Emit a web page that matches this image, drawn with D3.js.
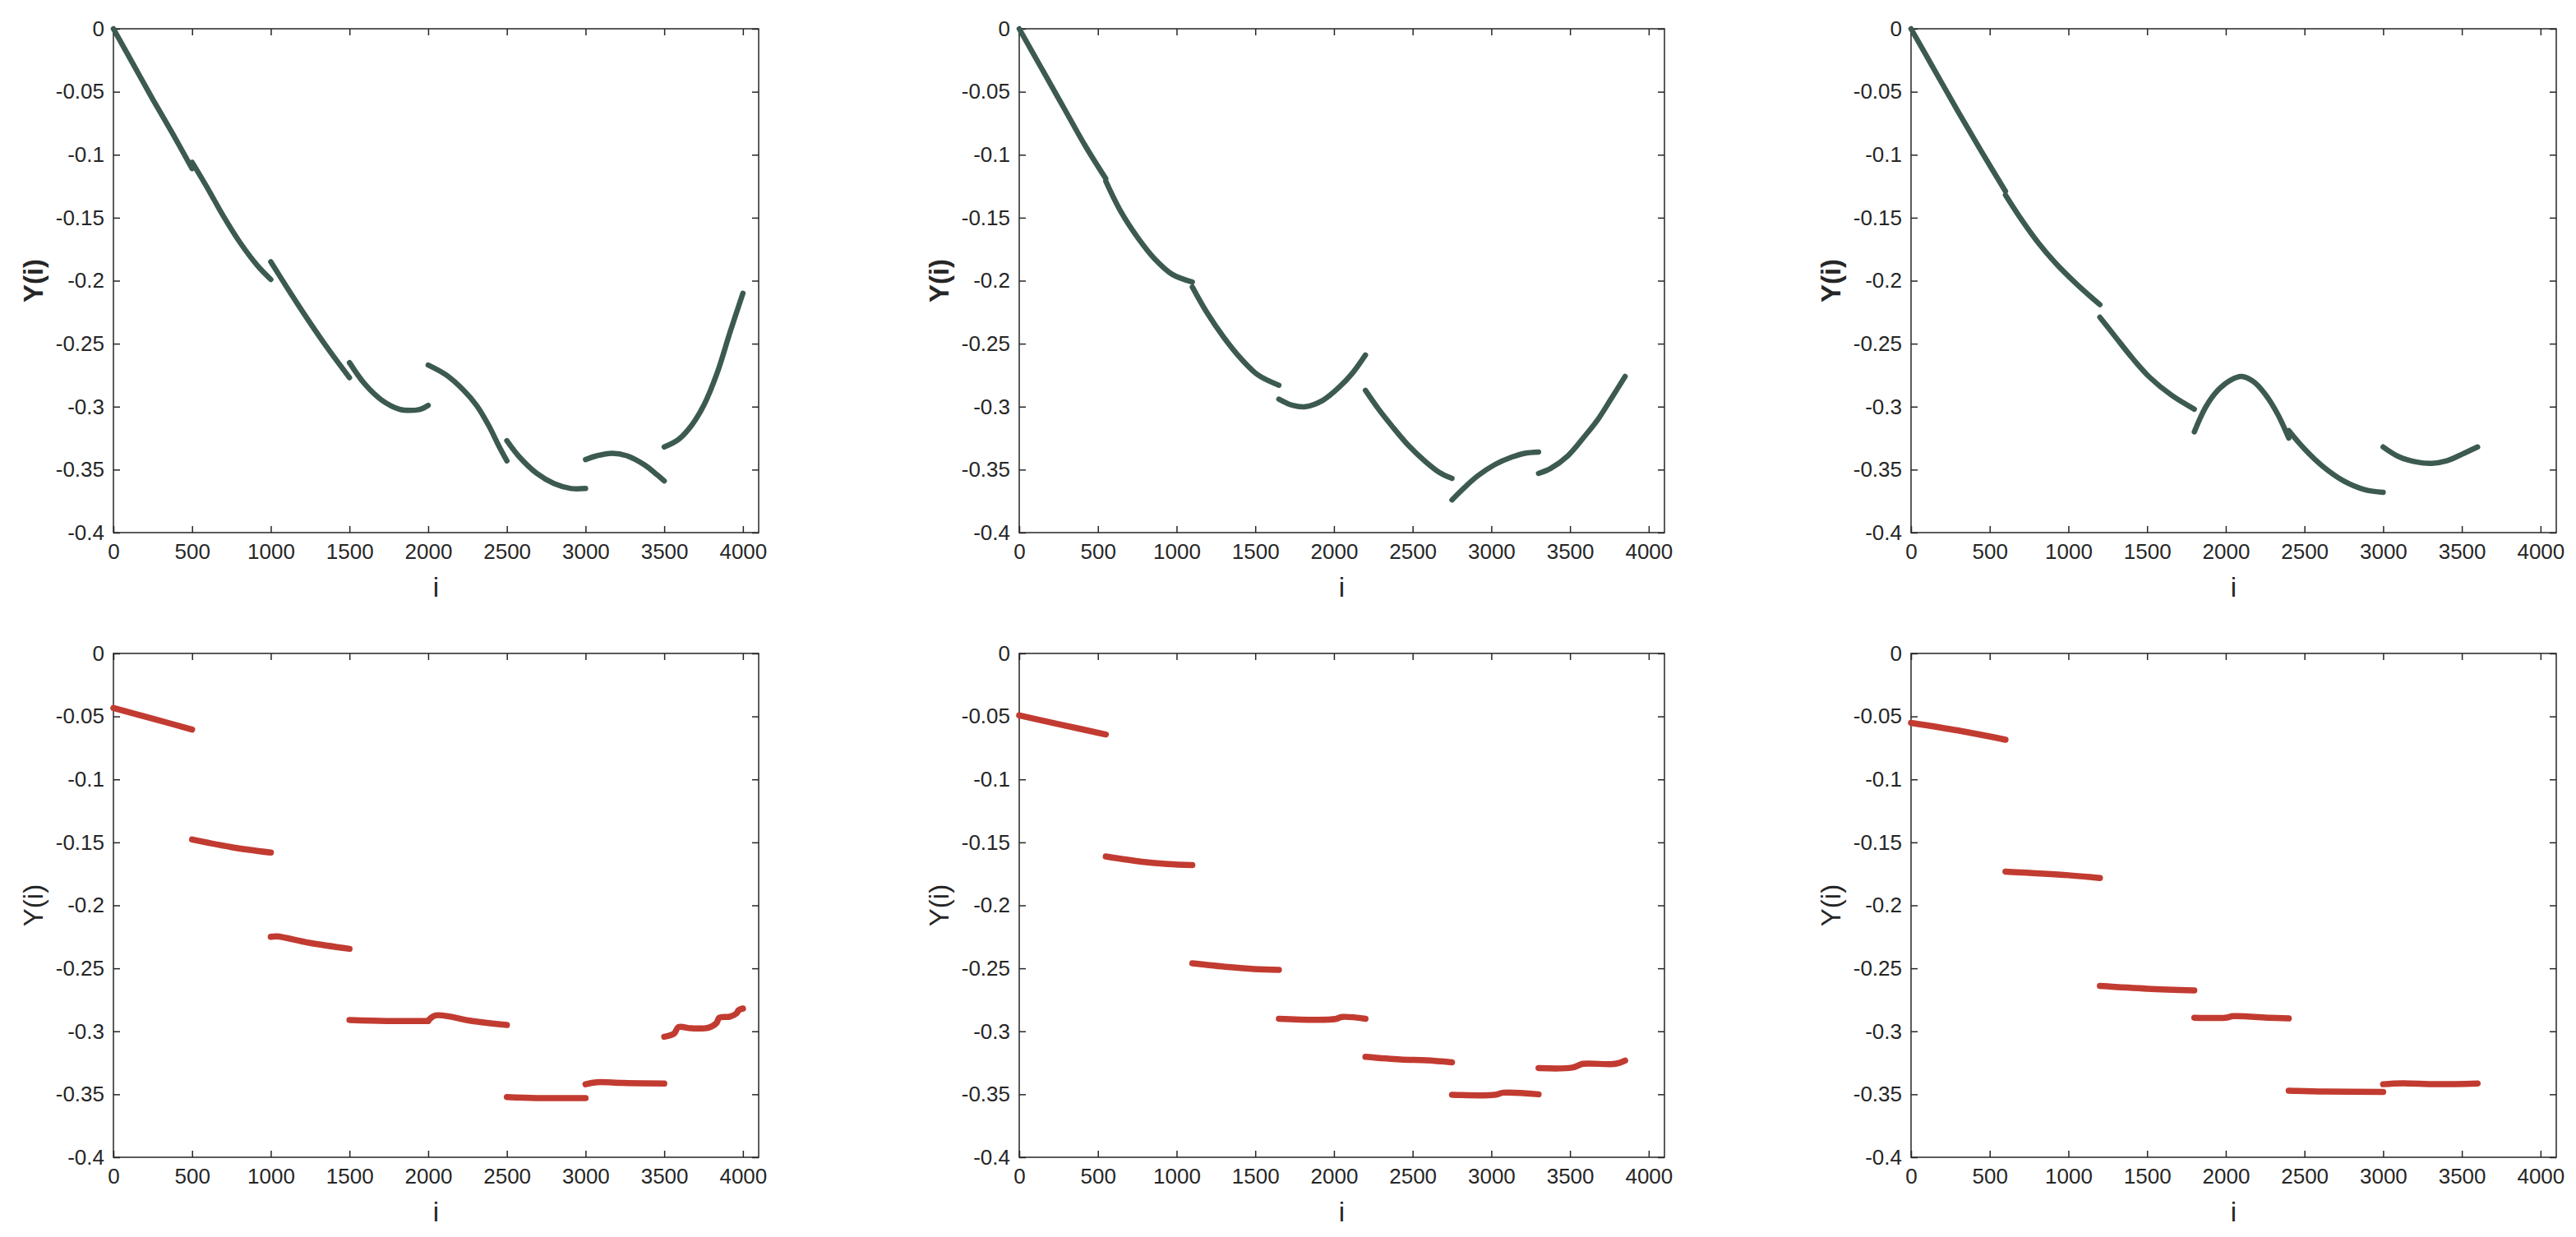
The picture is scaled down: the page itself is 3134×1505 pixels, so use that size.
<!DOCTYPE html>
<html>
<head>
<meta charset="utf-8">
<script src="https://cdn.jsdelivr.net/npm/d3@7"></script>
<style>
  html, body { margin: 0; padding: 0; background: #fff; }
  svg { display: block; }
  text { font-family: "Liberation Sans", Arial, Helvetica, sans-serif; fill: #262626; }
</style>
</head>
<body>
<div id="chart"></div>
<script>
// tick values and labels shared by all six panels
const xTicks = [0, 500, 1000, 1500, 2000, 2500, 3000, 3500, 4000];
const yTicks = [0, -0.05, -0.1, -0.15, -0.2, -0.25, -0.3, -0.35, -0.4];
const yTickLabels = ["0", "-0.05", "-0.1", "-0.15", "-0.2", "-0.25", "-0.3", "-0.35", "-0.4"];

// top row: segments of length 500 / 550 / 600, points [i, Y(i)]
const top500 = [
  [[0, 0], [125, -0.028], [250, -0.056], [375, -0.083], [500, -0.111]],
  [[500, -0.106], [600, -0.127], [700, -0.149], [806, -0.170], [915, -0.188], [1000, -0.199]],
  [[1000, -0.185], [1106, -0.206], [1215, -0.227], [1324, -0.247], [1434, -0.266], [1500, -0.277]],
  [[1500, -0.265], [1597, -0.282], [1707, -0.295], [1816, -0.302], [1884, -0.303], [1952, -0.302], [2000, -0.299]],
  [[2000, -0.267], [2116, -0.275], [2225, -0.287], [2307, -0.299], [2389, -0.316], [2444, -0.330], [2500, -0.343]],
  [[2500, -0.327], [2580, -0.340], [2690, -0.353], [2799, -0.361], [2908, -0.365], [3000, -0.365]],
  [[3000, -0.342], [3072, -0.339], [3168, -0.337], [3263, -0.339], [3372, -0.346], [3454, -0.354], [3500, -0.359]],
  [[3500, -0.332], [3591, -0.326], [3673, -0.315], [3755, -0.298], [3837, -0.273], [3918, -0.241], [4000, -0.210]]
];

const top550 = [
  [[0, 0], [140, -0.031], [280, -0.062], [420, -0.093], [550, -0.119]],
  [[550, -0.121], [645, -0.145], [754, -0.166], [863, -0.183], [973, -0.195], [1100, -0.201]],
  [[1100, -0.205], [1191, -0.225], [1300, -0.245], [1410, -0.262], [1519, -0.275], [1650, -0.283]],
  [[1650, -0.294], [1738, -0.299], [1820, -0.300], [1929, -0.295], [2038, -0.284], [2120, -0.273], [2200, -0.259]],
  [[2200, -0.287], [2284, -0.302], [2366, -0.315], [2475, -0.331], [2585, -0.344], [2667, -0.352], [2750, -0.357]],
  [[2750, -0.374], [2831, -0.364], [2913, -0.355], [3022, -0.346], [3131, -0.340], [3213, -0.337], [3300, -0.336]],
  [[3300, -0.353], [3377, -0.349], [3486, -0.339], [3596, -0.323], [3678, -0.310], [3760, -0.294], [3850, -0.276]]
];

const top600 = [
  [[0, 0], [150, -0.033], [300, -0.066], [450, -0.098], [600, -0.129]],
  [[600, -0.132], [699, -0.151], [809, -0.170], [918, -0.186], [1055, -0.203], [1200, -0.219]],
  [[1200, -0.229], [1301, -0.245], [1410, -0.262], [1519, -0.277], [1656, -0.291], [1800, -0.302]],
  [[1800, -0.320], [1874, -0.300], [1950, -0.287], [2030, -0.279], [2100, -0.276], [2175, -0.280],
   [2250, -0.290], [2330, -0.306], [2400, -0.325]],
  [[2400, -0.319], [2503, -0.334], [2612, -0.347], [2749, -0.359], [2885, -0.366], [3000, -0.368]],
  [[3000, -0.332], [3104, -0.340], [3213, -0.344], [3309, -0.345], [3404, -0.343], [3514, -0.337], [3600, -0.332]]
];

// bottom row
const bot500 = [
  [[0, -0.0433], [250, -0.0518], [500, -0.0604]],
  [[500, -0.1477], [751, -0.1538], [1000, -0.1581]],
  [[1000, -0.2250], [1040, -0.2247], [1242, -0.2297], [1500, -0.2345]],
  [[1500, -0.2910], [1734, -0.2918], [2000, -0.2918]],
  [[2000, -0.2915], [2048, -0.2874], [2280, -0.2918], [2500, -0.2950]],
  [[2500, -0.3522], [2690, -0.3530], [3000, -0.3530]],
  [[3000, -0.3420], [3072, -0.3404], [3235, -0.3410], [3500, -0.3415]],
  [[3500, -0.3043], [3563, -0.3018], [3590, -0.2967], [3672, -0.2976], [3781, -0.2971], [3831, -0.2936],
   [3850, -0.2892], [3918, -0.2883], [3959, -0.2858], [3973, -0.2832], [4000, -0.2819]]
];

const bot550 = [
  [[0, -0.0492], [275, -0.0568], [550, -0.0643]],
  [[550, -0.1612], [781, -0.1654], [945, -0.1672], [1100, -0.1680]],
  [[1100, -0.2460], [1328, -0.2490], [1492, -0.2506], [1650, -0.2512]],
  [[1650, -0.2900], [1874, -0.2908], [2011, -0.2902], [2052, -0.2886], [2200, -0.2900]],
  [[2200, -0.3203], [2421, -0.3224], [2585, -0.3230], [2750, -0.3246]],
  [[2750, -0.3504], [3022, -0.3504], [3077, -0.3487], [3300, -0.3500]],
  [[3300, -0.3292], [3514, -0.3288], [3582, -0.3258], [3760, -0.3261], [3814, -0.3250], [3850, -0.3232]]
];

const bot600 = [
  [[0, -0.0551], [300, -0.0612], [600, -0.0685]],
  [[600, -0.1732], [1000, -0.1761], [1200, -0.1783]],
  [[1200, -0.2640], [1503, -0.2662], [1800, -0.2675]],
  [[1800, -0.2892], [1996, -0.2892], [2049, -0.2880], [2278, -0.2892], [2400, -0.2898]],
  [[2400, -0.3471], [2630, -0.3478], [3000, -0.3481]],
  [[3000, -0.3420], [3123, -0.3412], [3335, -0.3420], [3600, -0.3414]]
];

const topColor = "#3c5a50";
const botColor = "#c23b31";

const W = 3134, H = 1505;
const colLeft = [138, 1240, 2325];
const rowTop = [35, 795];
const plotW = 785, plotH = 613;

const panels = [
  { segs: top500, row: 0, col: 0, color: topColor, width: 6.5, bold: true },
  { segs: top550, row: 0, col: 1, color: topColor, width: 6.5, bold: true },
  { segs: top600, row: 0, col: 2, color: topColor, width: 6.5, bold: true },
  { segs: bot500, row: 1, col: 0, color: botColor, width: 7.5, bold: false },
  { segs: bot550, row: 1, col: 1, color: botColor, width: 7.5, bold: false },
  { segs: bot600, row: 1, col: 2, color: botColor, width: 7.5, bold: false }
];

const svg = d3.select("#chart")
  .append("svg")
  .attr("width", W)
  .attr("height", H);

panels.forEach(p => {
  const left = colLeft[p.col];
  const top = rowTop[p.row];

  const x = d3.scaleLinear().domain([0, 4100]).range([left, left + plotW]);
  const y = d3.scaleLinear().domain([-0.4, 0]).range([top + plotH, top]);

  const g = svg.append("g");

  const styleAxis = sel => {
    sel.select(".domain").remove();
    sel.selectAll(".tick line").attr("stroke", "#262626").attr("stroke-width", 1.5);
    sel.selectAll(".tick text")
      .attr("fill", "#262626")
      .style("font-family", "\"Liberation Sans\", Arial, sans-serif")
      .style("font-size", "26px");
  };

  g.append("g")
    .attr("transform", `translate(0,${top + plotH})`)
    .call(d3.axisBottom(x).tickValues(xTicks).tickSize(-8).tickPadding(14).tickFormat(d3.format("d")))
    .call(styleAxis);

  g.append("g")
    .attr("transform", `translate(0,${top})`)
    .call(d3.axisTop(x).tickValues(xTicks).tickSize(-8).tickFormat(""))
    .call(styleAxis);

  g.append("g")
    .attr("transform", `translate(${left},0)`)
    .call(d3.axisLeft(y).tickValues(yTicks).tickSize(-8).tickPadding(11).tickFormat((d, i) => yTickLabels[i]))
    .call(styleAxis);

  g.append("g")
    .attr("transform", `translate(${left + plotW},0)`)
    .call(d3.axisRight(y).tickValues(yTicks).tickSize(-8).tickFormat(""))
    .call(styleAxis);

  g.append("rect")
    .attr("x", left)
    .attr("y", top)
    .attr("width", plotW)
    .attr("height", plotH)
    .attr("fill", "none")
    .attr("stroke", "#262626")
    .attr("stroke-width", 1.5);

  const line = d3.line()
    .x(d => x(d[0]))
    .y(d => y(d[1]))
    .curve(d3.curveCatmullRom.alpha(0.5));

  g.selectAll("path.seg")
    .data(p.segs)
    .enter()
    .append("path")
    .attr("class", "seg")
    .attr("d", line)
    .attr("fill", "none")
    .attr("stroke", p.color)
    .attr("stroke-width", p.width)
    .attr("stroke-linecap", "round")
    .attr("stroke-linejoin", "round");

  g.append("text")
    .attr("x", left + plotW / 2)
    .attr("y", top + plotH + 78)
    .attr("text-anchor", "middle")
    .style("font-size", "33px")
    .text("i");

  g.append("text")
    .attr("transform", `translate(${left - 86},${top + plotH / 2}) rotate(-90)`)
    .attr("text-anchor", "middle")
    .style("font-size", "33px")
    .style("font-weight", p.bold ? "bold" : "normal")
    .text("Y(i)");
});
</script>
</body>
</html>
